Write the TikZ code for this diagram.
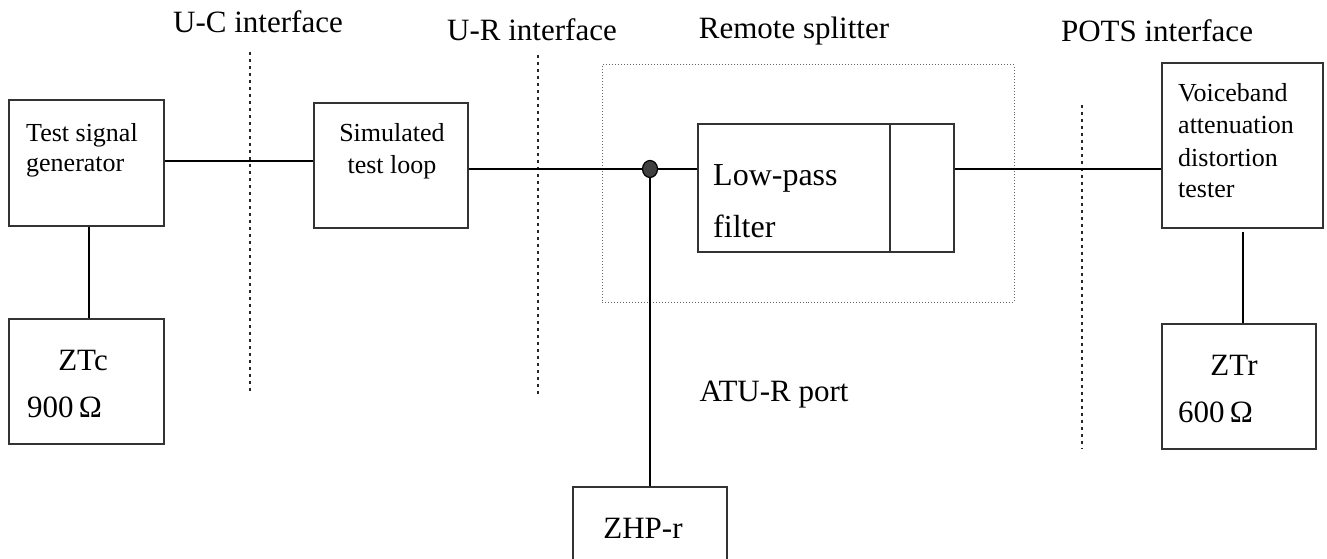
\documentclass[tikz,border=0pt]{standalone}
\usepackage{fontspec}
\setmainfont{Liberation Serif}
\usetikzlibrary{shapes.geometric}
\begin{document}
\begin{tikzpicture}[x=1bp,y=-1bp,
  box/.style={draw=black!80,line width=1.3bp,rectangle,inner sep=0pt},
  wire/.style={draw=black,line width=2bp},
  iface/.style={draw=black!85,line width=2.2bp,dash pattern=on 3bp off 4bp},
  splitbox/.style={draw=black!60,line width=1bp,dotted},
  big/.style={font=\fontsize{31bp}{36bp}\selectfont,inner sep=0pt},
  mid/.style={font=\fontsize{26bp}{32bp}\selectfont,inner sep=0pt},
  lpfont/.style={font=\fontsize{32bp}{48bp}\selectfont,inner sep=0pt}]
\useasboundingbox (0,0) rectangle (1327,559);
\clip (0,0) rectangle (1327,559);
% boxes
\node[box,minimum width=155bp,minimum height=126bp] (tsg) at (86.5,163) {};
\node[box,minimum width=154bp,minimum height=125bp] (sim) at (391,165.5) {};
\node[box,minimum width=155bp,minimum height=125bp] (ztc) at (86.5,381.5) {};
\node[box,minimum width=256bp,minimum height=128bp] (lpf) at (826,188) {};
\node[box,minimum width=161bp,minimum height=165bp] (vb) at (1242.5,145.5) {};
\node[box,minimum width=154bp,minimum height=125bp] (ztr) at (1239,386.5) {};
\node[box,minimum width=154bp,minimum height=120bp] (zhp) at (650,547) {};
\coordinate (div) at (890,0);
\draw[box] (lpf.north -| div) -- (lpf.south -| div);
% remote splitter
\node[splitbox,minimum width=412bp,minimum height=237bp] (rs) at (808,183.5) {};
% texts
\node[mid,anchor=west] (t1) at (26,135) {Test signal};
\node[mid,anchor=west] (t2) at (26,167) {generator};
\node[mid] (t3) at (392,133) {Simulated};
\node[mid] (t4) at (392,167) {test loop};
\node[lpfont,anchor=west] (t5) at (713,178) {Low-pass};
\node[lpfont,anchor=west] (t6) at (713,226) {filter};
\node[mid,anchor=west] (t7) at (1178,93) {Voiceband};
\node[mid,anchor=west] (t8) at (1178,125) {attenuation};
\node[mid,anchor=west] (t9) at (1178,158) {distortion};
\node[mid,anchor=west] (t10) at (1178,190) {tester};
\node[big] (t11) at (83,361) {ZTc};
\node[big,anchor=west] (t12) at (27,407) {900\,Ω};
\node[big] (t13) at (1234,365) {ZTr};
\node[big,anchor=west] (t14) at (1178,412) {600\,Ω};
\node[big] (t15) at (643,528) {ZHP-r};
\node[big] (t16) at (774,395) {ATU-R port};
\node[big] (l1) at (258,22) {U-C interface};
\node[big] (l2) at (532,30) {U-R interface};
\node[big] (l3) at (794,31) {Remote splitter};
\node[big] (l4) at (1157,31) {POTS interface};
% interface lines
\coordinate (uc1) at (250,52); \coordinate (uc2) at (250,395);
\coordinate (ur1) at (538,55); \coordinate (ur2) at (538,397);
\coordinate (po1) at (1082,105); \coordinate (po2) at (1082,449);
\draw[iface] (uc1) -- (uc2);
\draw[iface] (ur1) -- (ur2);
\draw[iface] (po1) -- (po2);
% wires
\coordinate (dot) at (650,169);
\draw[wire] (tsg.east |- 0,161) -- (sim.west |- 0,161);
\draw[wire] (sim.east |- dot) -- (dot) -- (lpf.west |- dot);
\draw[wire] (lpf.east |- dot) -- (vb.west |- dot);
\draw[wire] (dot) -- (zhp.north);
\draw[wire] (tsg.south -| 89,0) -- (ztc.north -| 89,0);
\draw[wire] (vb.south) ++(0,3) -- (ztr.north -| vb.south);
\node[draw=black,line width=1.2bp,fill=black!75,ellipse,minimum width=15bp,minimum height=17bp,inner sep=0pt] (dn) at (dot) {};
\end{tikzpicture}
\end{document}
